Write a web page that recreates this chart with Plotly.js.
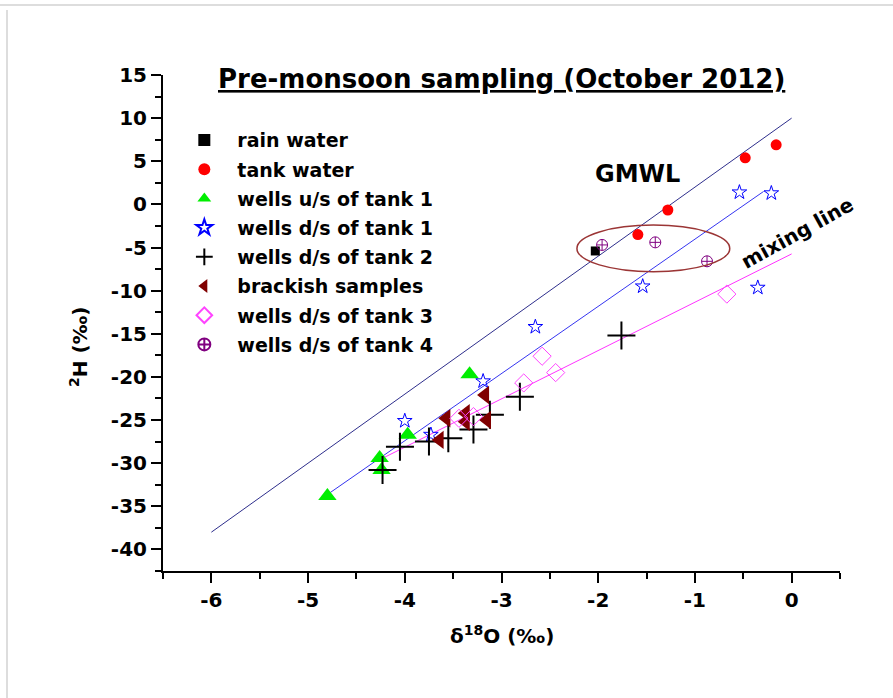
<!DOCTYPE html>
<html>
<head>
<meta charset="utf-8">
<script src="https://cdn.plot.ly/plotly-3.0.1.min.js"></script>
<style>
  html, body { margin: 0; padding: 0; background: #ffffff; }
  #wrap { position: relative; width: 893px; height: 698px; overflow: hidden; }
  #chart { position: absolute; left: 0; top: 0; width: 893px; height: 698px; }
  #frameTop { position: absolute; left: 0; top: 4px; width: 893px; height: 0; border-top: 2px solid #dddddd; pointer-events: none; }
  #frameLeft { position: absolute; left: 6px; top: 10px; width: 0; height: 700px; border-left: 2px solid #dddddd; pointer-events: none; }
</style>
</head>
<body>
<div id="wrap">
  <div id="chart"></div>
  <div id="frameTop"></div>
  <div id="frameLeft"></div>
</div>
<script>
// ---- data ----
const seriesNames = ["rain water", "tank water", "wells u/s of tank 1", "wells d/s of tank 1",
                     "wells d/s of tank 2", "brackish samples", "wells d/s of tank 3", "wells d/s of tank 4"];

const rainX = [-2.03];
const rainY = [-5.4];

const tankX = [-0.16, -0.48, -1.28, -1.59];
const tankY = [6.9, 5.4, -0.65, -3.5];

const usTank1X = [-3.33, -3.97, -4.26, -4.24, -4.80];
const usTank1Y = [-19.7, -26.7, -29.4, -30.8, -33.8];

const dsTank1X = [-0.54, -0.21, -1.54, -0.35, -2.65, -3.19, -4.00, -3.73];
const dsTank1Y = [1.4, 1.3, -9.5, -9.65, -14.2, -20.5, -25.1, -26.7];

const dsTank2X = [-4.23, -4.05, -3.75, -3.55, -3.29, -3.12, -2.81, -1.76];
const dsTank2Y = [-30.8, -28.1, -27.5, -27.1, -26.1, -24.4, -22.3, -15.2];

const brackX = [-3.64, -3.57, -3.37, -3.37, -3.17, -3.15];
const brackY = [-27.3, -24.8, -24.2, -25.2, -22.1, -25.0];

const dsTank3X = [-0.67, -2.58, -2.44, -2.77, -3.44, -3.29];
const dsTank3Y = [-10.4, -17.6, -19.5, -20.7, -24.8, -24.6];

const dsTank4X = [-1.96, -1.41, -0.875];
const dsTank4Y = [-4.7, -4.4, -6.6];

// regression / reference lines (end points)
const gmwlX = [-6, 0];
const gmwlY = [-38, 10];
const lmwlX = [-4.77, -0.29];
const lmwlY = [-33.4, 1.5];
const mixX = [-4.26, 0.0];
const mixY = [-29.6, -5.74];

// ellipse around the tank-4 / rain cluster
const ellipseX = [-2.22, -0.64];
const ellipseY = [-7.8, -2.4];

// ticks
const xTickVals = [-6, -5, -4, -3, -2, -1, 0];
const xTickText = ["-6", "-5", "-4", "-3", "-2", "-1", "0"];
const yTickVals = [15, 10, 5, 0, -5, -10, -15, -20, -25, -30, -35, -40];
const yTickText = ["15", "10", "5", "0", "-5", "-10", "-15", "-20", "-25", "-30", "-35", "-40"];

// ---- styles ----
const FONT = "DejaVu Sans, Arial, sans-serif";

const lineTrace = (x, y, color) => ({
  x: x, y: y, type: "scatter", mode: "lines",
  line: { color: color, width: 1 }, showlegend: false, hoverinfo: "skip"
});

const ptTrace = (i, x, y, marker) => ({
  x: x, y: y, type: "scatter", mode: "markers", name: seriesNames[i],
  legendgroup: "g" + i, marker: marker, cliponaxis: false
});

const data = [
  lineTrace(gmwlX, gmwlY, "#2e2e8c"),
  lineTrace(lmwlX, lmwlY, "#3535f0"),
  lineTrace(mixX, mixY, "#ff33ff"),
  ptTrace(0, rainX, rainY, { symbol: "square", size: 9, color: "#000000" }),
  ptTrace(1, tankX, tankY, { symbol: "circle", size: 11, color: "#ff0000" }),
  ptTrace(2, usTank1X, usTank1Y, { symbol: "triangle-up", size: 16, color: "#00ee00" }),
  ptTrace(3, dsTank1X, dsTank1Y, { symbol: "star-open", size: 11, color: "#0000ff", line: { color: "#0000ff", width: 1 } }),
  ptTrace(4, dsTank2X, dsTank2Y, { symbol: "cross-thin-open", size: 20, color: "#000000", line: { color: "#000000", width: 2 } }),
  ptTrace(5, brackX, brackY, { symbol: "triangle-left", size: 16, color: "#800000" }),
  ptTrace(6, dsTank3X, dsTank3Y, { symbol: "diamond-open", size: 14, color: "#ff44ff", line: { color: "#ff44ff", width: 1 } }),
  ptTrace(7, dsTank4X, dsTank4Y, { symbol: "circle-cross-open", size: 11, color: "#800080", line: { color: "#800080", width: 1 } })
];

const axisCommon = {
  showgrid: false, zeroline: false, showline: true, linecolor: "#000000", linewidth: 2,
  ticks: "outside", ticklen: 10, tickwidth: 2, tickcolor: "#000000",
  tickmode: "array",
  tickfont: { family: FONT, size: 20, color: "#000000", weight: "bold" },
  mirror: false, fixedrange: true
};

const layout = {
  width: 893, height: 698,
  margin: { l: 163, r: 53, t: 75, b: 127, pad: 0 },
  paper_bgcolor: "#ffffff", plot_bgcolor: "#ffffff",
  xaxis: Object.assign({}, axisCommon, {
    range: [-6.5, 0.5], tickvals: xTickVals, ticktext: xTickText,
    minor: { dtick: 0.5, tick0: 0, ticks: "outside", ticklen: 6, tickwidth: 2, tickcolor: "#000000", showgrid: false }
  }),
  yaxis: Object.assign({}, axisCommon, {
    range: [-42.5, 15], tickvals: yTickVals, ticktext: yTickText,
    minor: { dtick: 2.5, tick0: 0, ticks: "outside", ticklen: 6, tickwidth: 2, tickcolor: "#000000", showgrid: false }
  }),
  showlegend: true,
  legend: {
    x: 0.0123, y: 0.907, xanchor: "left", yanchor: "top",
    bgcolor: "rgba(0,0,0,0)", borderwidth: 0,
    font: { family: FONT, size: 19, color: "#000000", weight: "bold" },
    itemsizing: "constant", itemwidth: 56, tracegroupgap: 1.5, traceorder: "grouped"
  },
  shapes: [{
    type: "circle", xref: "x", yref: "y",
    x0: ellipseX[0], x1: ellipseX[1], y0: ellipseY[0], y1: ellipseY[1],
    line: { color: "#9b3535", width: 1.5 }, fillcolor: "rgba(0,0,0,0)"
  }],
  annotations: [
    { text: "Pre-monsoon sampling (October 2012)", xref: "paper", yref: "paper",
      x: 0.5007, y: 0.992, xanchor: "center", yanchor: "middle", showarrow: false,
      font: { family: FONT, size: 26, color: "#000000", weight: "bold", lineposition: "under" } },
    { text: "GMWL", xref: "x", yref: "y", x: -1.59, y: 3.5, xanchor: "center", yanchor: "middle",
      showarrow: false, font: { family: FONT, size: 24, color: "#000000", weight: "bold" } },
    { text: "mixing line", xref: "x", yref: "y", x: 0.056, y: -3.3, xanchor: "center", yanchor: "middle",
      textangle: -29, showarrow: false, font: { family: FONT, size: 20, color: "#000000", weight: "bold" } },
    { text: "δ<sup>18</sup>O (‰)", xref: "paper", yref: "paper", x: 0.5, y: -0.129,
      xanchor: "center", yanchor: "middle", showarrow: false,
      font: { family: FONT, size: 20, color: "#000000", weight: "bold" } },
    { text: "<sup>2</sup>H (‰)", xref: "paper", yref: "paper", x: -0.124, y: 0.4516,
      xanchor: "center", yanchor: "middle", textangle: -90, showarrow: false,
      font: { family: FONT, size: 20, color: "#000000", weight: "bold" } }
  ]
};

Plotly.newPlot("chart", data, layout, { displayModeBar: false, staticPlot: true });
</script>
</body>
</html>
